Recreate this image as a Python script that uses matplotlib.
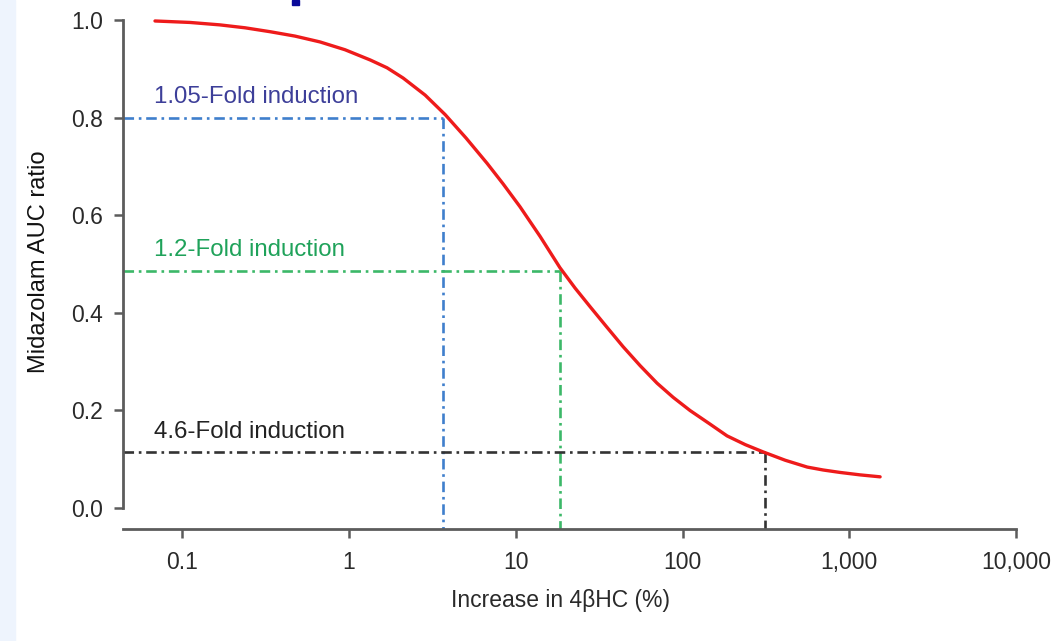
import matplotlib
matplotlib.use("Agg")
import matplotlib.pyplot as plt
from matplotlib.patches import Rectangle
from matplotlib.ticker import FixedLocator, FixedFormatter, NullLocator

plt.rcParams['font.family'] = ['Liberation Sans', 'DejaVu Sans']

# curve: increase in 4bHC (%) vs midazolam AUC ratio
increase = [0.0686, 0.111, 0.168, 0.238, 0.336, 0.474, 0.670, 0.946, 1.34, 1.69,
            2.11, 2.86, 3.77, 5.03, 6.73, 8.39, 10.6, 14.0, 18.4, 22.7,
            27.9, 34.8, 44.0, 55.7, 70.4, 87.9, 111, 145, 185, 238,
            305, 413, 560, 698, 882, 1162, 1531]
auc_ratio = [0.998, 0.995, 0.990, 0.984, 0.976, 0.967, 0.955, 0.939, 0.918, 0.902,
             0.881, 0.846, 0.806, 0.758, 0.706, 0.664, 0.617, 0.556, 0.492, 0.450,
             0.412, 0.372, 0.330, 0.291, 0.255, 0.226, 0.199, 0.172, 0.147, 0.129,
             0.114, 0.097, 0.083, 0.077, 0.072, 0.067, 0.063]

# fold induction reference points
fold_labels = ['1.05-Fold induction', '1.2-Fold induction', '4.6-Fold induction']
fold_x = [3.66, 18.4, 313]
fold_y = [0.80, 0.486, 0.113]
line_colors = ['#3f7fcc', '#3cb868', '#333333']
text_colors = ['#3d3f99', '#1fa25a', '#222222']

xticks = [0.1, 1, 10, 100, 1000, 10000]
xtick_labels = ['0.1', '1', '10', '100', '1,000', '10,000']
yticks = [0.0, 0.2, 0.4, 0.6, 0.8, 1.0]

xmin, xmax = 0.0441, 10000
ymin, ymax = -0.044, 1.0

fig = plt.figure(figsize=(10.54, 6.41), dpi=100)
ax = fig.add_axes([123 / 1054, 1 - 529 / 641, (1016 - 123) / 1054, (529 - 20) / 641])

# left strip of the slide and a clipped title fragment
fig.patches.append(Rectangle((0, 0), 15 / 1054, 1, transform=fig.transFigure,
                             color='#eef4fd', zorder=0))
fig.patches.append(Rectangle((292 / 1054, 1 - 5 / 641), 7 / 1054, 5 / 641,
                             transform=fig.transFigure, color='#0a0a9a', zorder=0))

for lab, fx, fy, lc, tc in zip(fold_labels, fold_x, fold_y, line_colors, text_colors):
    ax.plot([xmin, fx], [fy, fy], color=lc, lw=1.9, dashes=[4, 1.8, 1, 1.8])
    ax.plot([fx, fx], [fy, ymin], color=lc, lw=1.9, dashes=[4, 1.8, 1, 1.8])
    ax.text(0.068, fy + 0.02, lab, color=tc, fontsize=17.3, va='bottom', ha='left')

ax.plot(increase, auc_ratio, color='#ee1b1b', lw=2.4, clip_on=False, zorder=5,
        solid_capstyle='round', solid_joinstyle='round')

ax.set_xscale('log')
ax.set_xlim(xmin, xmax)
ax.set_ylim(ymin, ymax)

ax.xaxis.set_major_locator(FixedLocator(xticks))
ax.xaxis.set_major_formatter(FixedFormatter(xtick_labels))
ax.xaxis.set_minor_locator(NullLocator())
ax.set_yticks(yticks)
ax.set_yticklabels([f'{v:.1f}' for v in yticks])

for s in ['top', 'right']:
    ax.spines[s].set_visible(False)
ax.spines['left'].set_bounds(0, 1)
for s in ['left', 'bottom']:
    ax.spines[s].set_color('#5c5c5c')
    ax.spines[s].set_linewidth(2)

ax.tick_params(axis='both', colors='#5c5c5c', width=1.8, length=6.5,
               labelsize=16.5, labelcolor='#2a2a2a')
ax.tick_params(axis='x', pad=9)
ax.tick_params(axis='y', pad=8)

ax.set_xlabel('Increase in 4βHC (%)', fontsize=16.5, color='#2a2a2a')
ax.set_ylabel('Midazolam AUC ratio', fontsize=17, color='#111111')
ax.xaxis.set_label_coords(0.49, -0.118)
ax.yaxis.set_label_coords(-0.082, 0.5255)

fig.savefig('out.png', dpi=100, facecolor='white')
